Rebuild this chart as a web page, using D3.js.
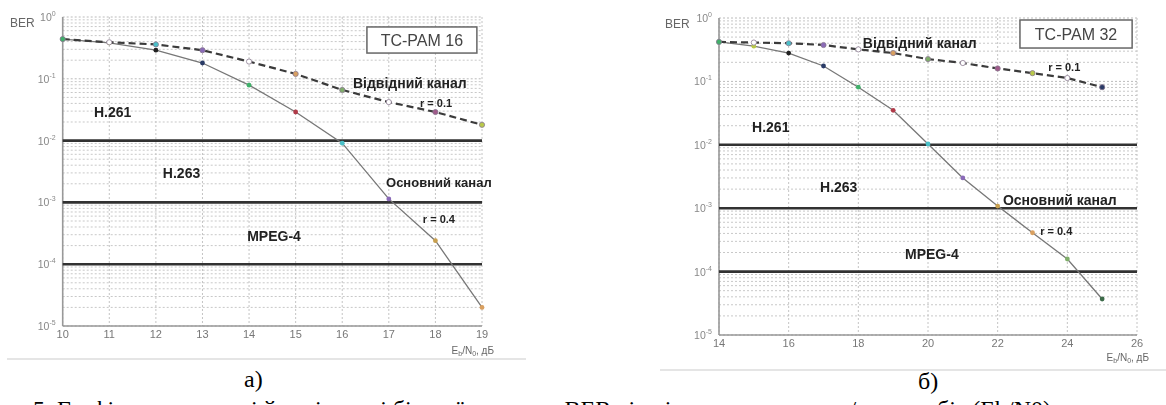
<!DOCTYPE html>
<html>
<head>
<meta charset="utf-8">
<script src="https://cdn.jsdelivr.net/npm/d3@7"></script>
<style>
  body { margin: 0; background: #fff; }
  svg { display: block; font-family: "Liberation Sans", Arial, sans-serif; }
</style>
</head>
<body>
<div id="chart"></div>
<script>
// panel a) TC-PAM 16
const snrA = [10, 11, 12, 13, 14, 15, 16, 17, 18, 19];
const backA = [0.44, 0.39, 0.36, 0.29, 0.19, 0.12, 0.066, 0.042, 0.029, 0.018];
const mainA = [0.44, 0.38, 0.29, 0.18, 0.079, 0.029, 0.0091, 0.00114, 0.00024, 0.00002];
const xTicksA = [10, 11, 12, 13, 14, 15, 16, 17, 18, 19];

// panel б) TC-PAM 32
const snrB = [14, 15, 16, 17, 18, 19, 20, 21, 22, 23, 24, 25];
const backB = [0.42, 0.41, 0.40, 0.375, 0.32, 0.28, 0.225, 0.195, 0.16, 0.135, 0.113, 0.081];
const mainB = [0.42, 0.36, 0.28, 0.175, 0.081, 0.035, 0.0103, 0.0030, 0.00108, 0.00041, 0.000158, 0.000037];
const xTicksB = [14, 16, 18, 20, 22, 24, 26];

// shared
const yDecades = [0, -1, -2, -3, -4, -5];
const thresholds = [1e-2, 1e-3, 1e-4];
const markerColors = ["#d9a060", "#7fae6a", "#3c6b4a", "#a05a8a", "#b9c94a", "#222", "#2a3a66", "#3fb06a", "#b03a4a", "#49c0c8", "#8a6ab8", "#c8a050"];

const W = 1166, H = 405;
const svg = d3.select("#chart").append("svg").attr("width", W).attr("height", H);

const defs = svg.append("defs");
defs.append("filter").attr("id", "soft")
  .append("feGaussianBlur").attr("stdDeviation", 0.5);

function drawPanel(p) {
  const x = d3.scaleLinear().domain(p.xDomain).range(p.xRange);
  const y = d3.scaleLog().domain([1, 1e-5]).range(p.yRange);
  const g = svg.append("g").attr("filter", "url(#soft)");

  // image frame
  g.append("line").attr("x1", p.frame[0]).attr("x2", p.frame[1])
    .attr("y1", p.frame[2]).attr("y2", p.frame[2])
    .attr("stroke", "#ddd").attr("stroke-width", 1.5);

  // grid
  const minor = [];
  for (let e = -5; e < 0; e++) for (let k = 2; k <= 9; k++) minor.push(k * Math.pow(10, e));
  g.selectAll(".hminor").data(minor).join("line")
    .attr("x1", p.xRange[0]).attr("x2", p.xRange[1])
    .attr("y1", d => y(d)).attr("y2", d => y(d))
    .attr("stroke", "#c8c8c8").attr("stroke-dasharray", "2,2").attr("stroke-width", 1);
  g.selectAll(".hmajor").data(yDecades).join("line")
    .attr("x1", p.xRange[0]).attr("x2", p.xRange[1])
    .attr("y1", d => y(Math.pow(10, d))).attr("y2", d => y(Math.pow(10, d)))
    .attr("stroke", "#bbb").attr("stroke-dasharray", "2,2");
  g.selectAll(".vgrid").data(p.xTicks).join("line")
    .attr("x1", d => x(d)).attr("x2", d => x(d))
    .attr("y1", p.yRange[0]).attr("y2", p.yRange[1])
    .attr("stroke", "#c4c4c4").attr("stroke-dasharray", "2,2");

  // axes (left and bottom)
  g.append("line").attr("x1", p.xRange[0]).attr("x2", p.xRange[0])
    .attr("y1", p.yRange[0]).attr("y2", p.yRange[1]).attr("stroke", "#999").attr("stroke-width", 1.6);
  g.append("line").attr("x1", p.xRange[0]).attr("x2", p.xRange[1])
    .attr("y1", p.yRange[1]).attr("y2", p.yRange[1]).attr("stroke", "#999").attr("stroke-width", 1.6);

  // tick labels
  g.selectAll(".xt").data(p.xTicks).join("text")
    .attr("x", d => x(d)).attr("y", p.yRange[1] + p.xLabelDy)
    .attr("text-anchor", "middle").attr("font-size", 11).attr("fill", "#777")
    .text(d => d);
  const yt = g.selectAll(".yt").data(yDecades).join("text")
    .attr("x", p.xRange[0] - 7).attr("y", d => y(Math.pow(10, d)) + 4)
    .attr("text-anchor", "end").attr("font-size", 10.5).attr("fill", "#888");
  yt.append("tspan").text("10");
  yt.append("tspan").attr("dy", -5).attr("font-size", 7).text(d => d === 0 ? "0" : "-" + (-d));

  g.append("text").attr("x", p.berX).attr("y", p.yRange[0] + 10)
    .attr("font-size", 12).attr("fill", "#666").text("BER");

  const xl = g.append("text").attr("x", p.xRange[1] + 12).attr("y", p.yRange[1] + p.xTitleDy)
    .attr("text-anchor", "end").attr("font-size", 10).attr("fill", "#666");
  xl.append("tspan").text("E");
  xl.append("tspan").attr("font-size", 7).attr("dy", 2).text("b");
  xl.append("tspan").attr("dy", -2).text("/N");
  xl.append("tspan").attr("font-size", 7).attr("dy", 2).text("0");
  xl.append("tspan").attr("dy", -2).text(", дБ");

  // codec thresholds
  g.selectAll(".thr").data(thresholds).join("line")
    .attr("x1", p.xRange[0]).attr("x2", p.xRange[1])
    .attr("y1", d => y(d)).attr("y2", d => y(d))
    .attr("stroke", "#333").attr("stroke-width", 2.6);

  // curves
  const line = d3.line().x(d => x(d[0])).y(d => y(d[1]));
  const mainPts = p.snr.map((s, i) => [s, p.main[i]]);
  const backPts = p.snr.map((s, i) => [s, p.back[i]]);
  g.append("path").datum(mainPts).attr("d", line)
    .attr("fill", "none").attr("stroke", "#777").attr("stroke-width", 1.3);
  g.append("path").datum(backPts).attr("d", line)
    .attr("fill", "none").attr("stroke", "#3a3a3a").attr("stroke-width", 2.2)
    .attr("stroke-dasharray", "7,4");
  g.selectAll(".mm").data(mainPts).join("circle")
    .attr("cx", d => x(d[0])).attr("cy", d => y(d[1])).attr("r", 2.4)
    .attr("fill", (d, i) => markerColors[(i + 3) % markerColors.length]);
  g.selectAll(".mb").data(backPts).join("circle")
    .attr("cx", d => x(d[0])).attr("cy", d => y(d[1])).attr("r", 2.6)
    .attr("fill", (d, i) => i % 3 === 1 ? "#fff" : markerColors[(i + 7) % markerColors.length])
    .attr("stroke", "#8a7a90").attr("stroke-width", 0.8);

  // title box
  const bx0 = x(p.box[0]), bx1 = x(p.box[1]), by0 = y(p.box[2]), by1 = y(p.box[3]);
  g.append("rect").attr("x", bx0).attr("y", by0).attr("width", bx1 - bx0).attr("height", by1 - by0)
    .attr("fill", "#fff").attr("stroke", "#666").attr("stroke-width", 1.5);
  g.append("text").attr("x", (bx0 + bx1) / 2).attr("y", (by0 + by1) / 2 + 6)
    .attr("text-anchor", "middle").attr("font-size", 16).attr("fill", "#444")
    .text(p.title);

  // annotations
  g.selectAll(".ann").data(p.notes).join("text")
    .attr("x", d => x(d[1])).attr("y", d => y(d[2]))
    .attr("font-size", d => d[3]).attr("font-weight", "bold").attr("fill", "#222")
    .text(d => d[0]);

  // panel letter
  svg.append("text").attr("x", p.letterX).attr("y", p.letterY)
    .attr("font-family", "'Liberation Serif', 'Times New Roman', serif")
    .attr("font-size", 24).attr("fill", "#000").text(p.letter);
}

drawPanel({
  snr: snrA, main: mainA, back: backA, xTicks: xTicksA,
  xDomain: [10, 19], xRange: [62.7, 482], yRange: [17, 326],
  xLabelDy: 12, xTitleDy: 28, berX: 10, frame: [7, 526, 359],
  box: [16.53, 18.89, 0.69, 0.261], title: "TC-PAM 16",
  notes: [
    ["Відвідний канал", 16.23, 0.071, 14],
    ["r = 0.1", 17.67, 0.035, 11],
    ["H.261", 10.67, 0.024, 14],
    ["H.263", 12.15, 0.00248, 14],
    ["Основний канал", 16.94, 0.00177, 13],
    ["r = 0.4", 17.73, 0.000464, 11],
    ["MPEG-4", 13.96, 0.000237, 14]
  ],
  letter: "а)", letterX: 244, letterY: 387
});

drawPanel({
  snr: snrB, main: mainB, back: backB, xTicks: xTicksB,
  xDomain: [14, 26], xRange: [719, 1137], yRange: [18, 335],
  xLabelDy: 12, xTitleDy: 26, berX: 665, frame: [660, 1166, 370],
  box: [22.64, 25.86, 0.93, 0.336], title: "TC-PAM 32",
  notes: [
    ["Відвідний канал", 18.13, 0.336, 14],
    ["r = 0.1", 23.45, 0.146, 11],
    ["H.261", 14.95, 0.0159, 14],
    ["H.263", 16.90, 0.0018, 14],
    ["Основний канал", 22.15, 0.00112, 14],
    ["r = 0.4", 23.22, 0.000378, 11],
    ["MPEG-4", 19.34, 0.000158, 14]
  ],
  letter: "б)", letterX: 918, letterY: 389
});

// figure caption: in the reference only its top edge shows at the bottom of the picture
svg.append("text").attr("x", 33).attr("y", 417)
  .attr("font-family", "'Liberation Serif', 'Times New Roman', serif")
  .attr("font-size", 24).attr("fill", "#000")
  .text("5. Графіки залежності ймовірності бітової помилки BER від відношення сигнал/шум на біт (Eb/N0) для");
</script>
</body>
</html>
